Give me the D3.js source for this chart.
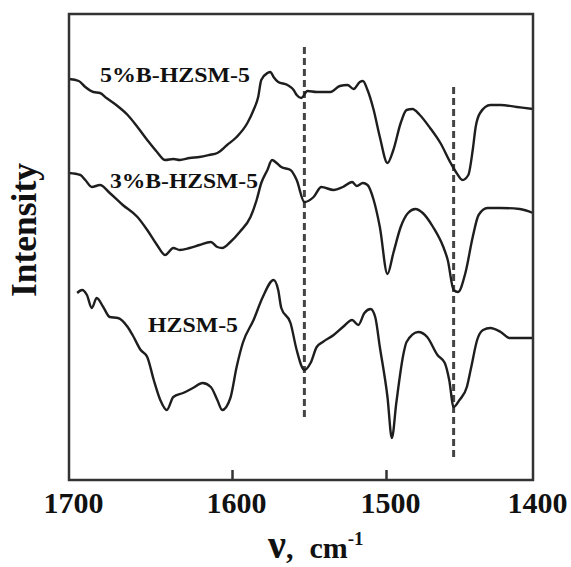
<!DOCTYPE html>
<html>
<head>
<meta charset="utf-8">
<script src="https://cdn.jsdelivr.net/npm/d3@7"></script>
<style>
  html, body { margin: 0; padding: 0; background: #fff; }
  svg { display: block; }
  .serif { font-family: "Liberation Serif", "Times New Roman", Times, serif; font-weight: bold; }
</style>
</head>
<body>
<svg id="chart" width="571" height="567"></svg>
<script>
// ---------- data ----------
const seriesNames = ["5%B-HZSM-5", "3%B-HZSM-5", "HZSM-5"];

const wn5B = [1700,1694,1690,1685,1681,1677,1671,1664,1658,1652,1646,1641,1636,1632,1626,1620,1614,1609,1603,1597,1590,1586,1583,1581,1577,1575,1573,1570,1564,1560,1558,1555,1551,1545,1536,1530,1525,1521,1517,1515,1512,1508,1504,1499,1495,1490,1486,1482,1477,1470,1463,1456,1452,1448,1444,1441,1439,1436,1429,1422,1411,1400];
const int5B = [401,399,393,388,387,382,375,365,353,340,328,320,321,320,322,323,325,327,335,343,357,370,383,400,407,408,403,398,395,390,385,382,389,388,388,394,395,391,398,399,390,370,343,317,330,357,370,371,365,352,337,317,307,300,305,330,353,367,375,375,373,371];

const wn3B = [1700,1693,1690,1686,1681,1675,1667,1658,1652,1646,1641,1636,1632,1626,1620,1613,1609,1606,1601,1595,1588,1584,1581,1577,1574,1571,1568,1562,1558,1553,1547,1542,1534,1528,1522,1519,1515,1512,1508,1504,1499,1495,1490,1485,1480,1475,1468,1461,1458,1454,1451,1446,1441,1437,1431,1422,1409,1400];
const int3B = [307,305,300,293,295,287,275,263,250,235,225,232,230,232,235,238,233,232,238,248,263,280,297,310,320,317,313,310,300,278,283,293,290,293,298,294,297,295,280,253,206,227,253,267,271,267,253,233,220,190,188,207,243,265,272,272,271,267];

const wnH = [1695,1692,1689,1686,1683,1679,1675,1670,1664,1661,1656,1652,1648,1644,1640,1636,1630,1624,1618,1613,1609,1606,1601,1597,1593,1586,1580,1573,1570,1568,1562,1558,1553,1549,1545,1541,1534,1528,1522,1518,1514,1510,1507,1504,1499,1496,1493,1488,1486,1478,1472,1465,1460,1457,1454,1450,1445,1442,1438,1434,1429,1422,1416,1407,1400];
const intH = [187,190,185,172,182,173,163,162,153,145,130,123,100,80,70,83,87,92,97,93,80,70,82,113,137,160,183,200,190,172,157,130,110,117,133,138,145,153,160,155,167,171,163,133,83,42,77,127,138,148,143,125,117,100,73,80,93,113,140,150,152,148,142,142,142];

const xTicks = [1700, 1600, 1500, 1400];
const markerLines = [1553, 1454];
const markerTop = [433, 393];
const markerBottom = [60, 20];

// ---------- layout ----------
const W = 571, H = 567;
const L = 69, T = 14, R = 533, B = 480;
const labelPos = [
  {x: 100, y: 82, len: 150},
  {x: 110, y: 188, len: 148},
  {x: 148, y: 332, len: 90}
];

const svg = d3.select("#chart");
const x = d3.scaleLinear().domain([1700, 1600, 1500, 1400]).range([L, 232, 386, R]);
const y = d3.scaleLinear().domain([0, 466]).range([B, T]);

const series = [
  {name: seriesNames[0], wn: wn5B, v: int5B},
  {name: seriesNames[1], wn: wn3B, v: int3B},
  {name: seriesNames[2], wn: wnH, v: intH}
];

const line = d3.line()
  .x(d => x(d[0]))
  .y(d => y(d[1]))
  .curve(d3.curveMonotoneX);

// dashed marker lines
svg.selectAll("line.marker").data(markerLines).enter().append("line")
  .attr("class", "marker")
  .attr("x1", d => x(d)).attr("x2", d => x(d))
  .attr("y1", (d, i) => y(markerTop[i])).attr("y2", (d, i) => y(markerBottom[i]))
  .attr("stroke", "#444").attr("stroke-width", 3)
  .attr("stroke-dasharray", "7,4");

// curves
svg.selectAll("path.spec").data(series).enter().append("path")
  .attr("class", "spec")
  .attr("d", s => line(s.wn.map((w, i) => [w, s.v[i]])))
  .attr("fill", "none")
  .attr("stroke", "#1e1e1e")
  .attr("stroke-width", 2.4)
  .attr("stroke-linejoin", "round");

// frame
svg.append("rect")
  .attr("x", L).attr("y", T).attr("width", R - L).attr("height", B - T)
  .attr("fill", "none").attr("stroke", "#333").attr("stroke-width", 2.5);

// x axis
const xAxis = d3.axisBottom(x).tickValues(xTicks).tickFormat(d3.format("d"))
  .tickSizeInner(-10).tickSizeOuter(0).tickPadding(12);
const gx = svg.append("g").attr("transform", `translate(0,${B})`).call(xAxis);
gx.attr("font-family", null).attr("font-size", null);
gx.select(".domain").remove();
gx.selectAll(".tick line")
  .attr("stroke", "#333").attr("stroke-width", 2.5)
  .attr("display", d => (d === 1700 || d === 1400) ? "none" : null);
gx.selectAll(".tick text")
  .attr("class", "serif")
  .style("font-size", "30px")
  .attr("fill", "#111")
  .attr("dx", 4);

// series labels
svg.selectAll("text.lab").data(series).enter().append("text")
  .attr("class", "lab serif")
  .attr("x", (d, i) => labelPos[i].x)
  .attr("y", (d, i) => labelPos[i].y)
  .attr("textLength", (d, i) => labelPos[i].len)
  .attr("lengthAdjust", "spacingAndGlyphs")
  .style("font-size", "22px")
  .attr("fill", "#111")
  .text(d => d.name);

// y label
svg.append("text")
  .attr("class", "serif")
  .attr("transform", "translate(36,230) rotate(-90)")
  .attr("text-anchor", "middle")
  .attr("textLength", 134)
  .attr("lengthAdjust", "spacingAndGlyphs")
  .style("font-size", "35px")
  .attr("fill", "#111")
  .text("Intensity");

// x label
const xl = svg.append("text")
  .attr("class", "serif")
  .attr("x", 268).attr("y", 558)
  .attr("fill", "#111");
xl.append("tspan").style("font-size", "40px").text("ν");
xl.append("tspan").style("font-size", "30px").text(",");
xl.append("tspan").style("font-size", "30px").attr("dx", 16).text("cm");
xl.append("tspan").style("font-size", "19px").attr("dy", -13).text("-1");
</script>
</body>
</html>
